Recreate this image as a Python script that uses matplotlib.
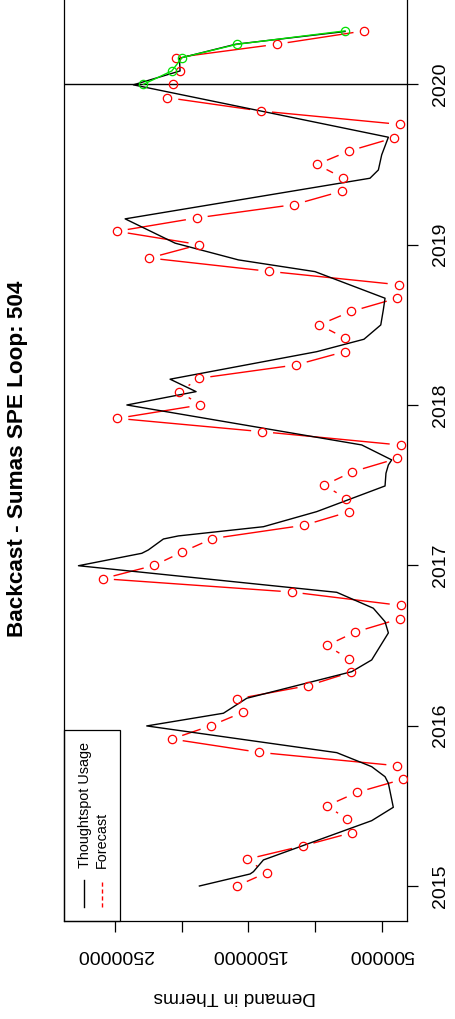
import numpy as np
import matplotlib
matplotlib.use('Agg')
import matplotlib.pyplot as plt
from matplotlib.lines import Line2D
from matplotlib.patches import Rectangle
from matplotlib.collections import LineCollection

plt.rcParams['font.family'] = ['Liberation Sans', 'DejaVu Sans']

W, H, DPI = 455, 1019, 100

# ---------------- data ----------------
start_year = 2015
title = "Backcast - Sumas SPE Loop: 504"
ylabel = "Demand in Therms"
legend_labels = ["Thoughtspot Usage", "Forecast"]

# monthly forecast, Jan 2015 .. May 2020
forecast_values = [
    1587000, 1362000, 1512000, 1092000, 720000, 758000, 912000, 687000, 338000, 383000, 1417000, 2074000,
    1780000, 1542000, 1587000, 1050000, 730000, 747000, 912000, 700000, 365000, 358000, 1175000, 2591000,
    2205000, 1995000, 1770000, 1082000, 747000, 768000, 930000, 720000, 383000, 358000, 1397000, 2482000,
    1860000, 2017000, 1867000, 1142000, 775000, 775000, 968000, 730000, 383000, 373000, 1343000, 2242000,
    1867000, 2486000, 1887000, 1155000, 800000, 792000, 987000, 747000, 406000, 363000, 1405000, 2107000,
    2067000, 2012000, 2044000, 1287000, 630000,
]

# 2020 series (months since Jan 2015)
green_months = [60, 61, 62, 63, 64]
green_values = [2287000, 2074000, 1997000, 1582000, 775000]

# usage (months since Jan 2015, value)
usage_months = [0.0, 0.9, 1.07, 1.95, 4.89, 5.89, 7.69, 8.18, 8.93, 9.98, 11.98, 12.93, 14.05,
                16.04, 16.92, 18.94, 19.78, 20.79, 21.98, 23.97, 24.90, 25.15, 25.97, 26.20,
                26.89, 28.02, 29.94, 30.89, 31.51, 31.89, 33.01, 36.0, 37.0, 37.93, 39.99,
                40.92, 41.99, 43.11, 43.99, 45.98, 46.86, 47.85, 48.11, 49.93, 52.97, 53.59,
                54.72, 56.04, 59.96, 61.0, 61.95, 63.0, 63.95]
usage_values = [1867000, 1487000, 1462000, 1387000, 575000, 413000, 450000, 475000, 575000, 837000,
                2262000, 1687000, 1512000, 725000, 575000, 450000, 475000, 563000, 837000, 2774000,
                2299000, 2250000, 2137000, 2025000, 1387000, 987000, 475000, 468000, 450000, 425000,
                650000, 2411000, 1892000, 2087000, 987000, 633000, 507000, 488000, 475000, 1000000,
                1575000, 1950000, 2049000, 2424000, 588000, 525000, 500000, 450000, 2362000,
                2012000, 2017000, 1595000, 775000]

year_ticks = [2015, 2016, 2017, 2018, 2019, 2020]
demand_ticks = [500000, 1000000, 1500000, 2000000, 2500000]
demand_tick_labels = ["500000", "", "1500000", "", "2500000"]
split_year = 2020

# ---------------- figure ----------------
fig = plt.figure(figsize=(W / DPI, H / DPI), dpi=DPI)
fx = lambda px: px / W
fy = lambda py: 1 - py / H

ax = fig.add_axes([fx(64), fy(921), (407 - 64) / W, 921 / H])
ax.set_xlim(2882450, 310275)
ax.set_ylim(2014.7817, 2020.5258)

fc_t = start_year + np.arange(len(forecast_values)) / 12.0
us_t = start_year + np.array(usage_months) / 12.0
gr_t = start_year + np.array(green_months) / 12.0

ax.plot(usage_values, us_t, color='black', lw=1.0, zorder=3)

# forecast drawn as R type="b": points with gapped connecting segments
pts = ax.transData.transform(np.column_stack([forecast_values, fc_t]))
gap = 11.0
segs = []
inv = ax.transData.inverted()
for p, q in zip(pts[:-1], pts[1:]):
    d = q - p
    L = np.hypot(d[0], d[1])
    if L > 2 * gap:
        u = d / L
        segs.append(inv.transform(np.array([p + u * gap, q - u * gap])))
ax.add_collection(LineCollection(segs, colors='red', linewidths=1.0, zorder=2))
ax.plot(forecast_values, fc_t, 'o', ls='none', mfc='none', mec='red', ms=6, mew=0.9, zorder=4)

ax.plot(green_values, gr_t, '-o', color='#00e000', mfc='none', mec='#00e000', ms=6, mew=0.9, lw=1.0, zorder=5)

ax.axhline(split_year, color='black', lw=1.0, zorder=1)

# axes styling
ax.spines['top'].set_visible(False)
for s in ['left', 'right', 'bottom']:
    ax.spines[s].set_linewidth(0.9)
ax.yaxis.tick_right()
ax.set_yticks(year_ticks)
ax.set_yticklabels([str(y) for y in year_ticks], rotation=90, va='center', fontsize=14)
ax.set_xticks(demand_ticks)
ax.set_xticklabels(demand_tick_labels, rotation=180, fontsize=14)
ax.tick_params(axis='both', direction='out', length=8, width=0.9, pad=10)
ax.tick_params(axis='y', left=False, right=True)

# title and label
fig.text(fx(17.5), fy(459), title, rotation=90, ha='center', va='center',
         fontsize=16.2, fontweight='bold')
fig.text(fx(235), fy(997), ylabel, rotation=180, ha='center', va='center', fontsize=13.8)

# legend (rotated)
ax.add_patch(Rectangle((0, 0), (120 - 64) / 343, (921 - 730) / 921, transform=ax.transAxes,
                       fill=False, edgecolor='black', lw=0.9, zorder=6, clip_on=False))
fig.add_artist(Line2D([fx(83.5), fx(83.5)], [fy(907), fy(880)], color='black', lw=1.0))
fig.add_artist(Line2D([fx(101.5), fx(101.5)], [fy(907), fy(880)], color='red', lw=1.0,
                      dashes=(3, 2)))
fig.text(fx(84.5), fy(868), legend_labels[0], rotation=90, rotation_mode='anchor',
         ha='left', va='center', fontsize=10.4)
fig.text(fx(102), fy(868), legend_labels[1], rotation=90, rotation_mode='anchor',
         ha='left', va='center', fontsize=10.4)

fig.savefig('out.png', dpi=DPI)
